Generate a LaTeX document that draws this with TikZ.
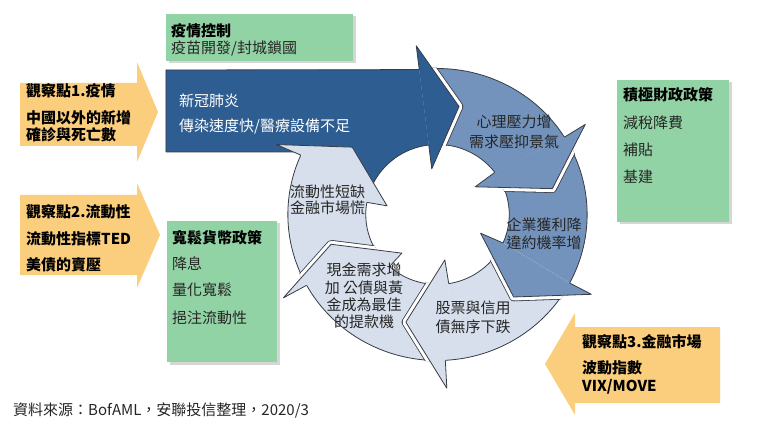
\documentclass[tikz,border=0pt]{standalone}
\usepackage{fontspec}
\setmainfont{Noto Sans CJK TC}
\definecolor{darkb}{RGB}{46,93,145}
\definecolor{midb}{RGB}{115,147,188}
\definecolor{lightb}{RGB}{214,223,235}
\definecolor{edgec}{RGB}{55,60,70}
\definecolor{greenc}{RGB}{146,211,165}
\definecolor{orangec}{RGB}{251,206,125}
\definecolor{txtc}{RGB}{38,38,38}

% body of a ring segment: tail outer/inner angle, head outer/inner angle, colour
\newcommand{\ringbody}[5]{%
  \fill[#5] (#1:146) arc[start angle=#1,end angle=#3,ro] -- (#4:70) arc[start angle=#4,end angle=#2,ri] -- cycle;
  \draw[edge] (#1:146) arc[start angle=#1,end angle=#3,ro];
  \draw[edge] (#4:70) arc[start angle=#4,end angle=#2,ri];
}
% head: outer base angle, inner base angle, tip angle, tip radius, outer wing r, inner wing r, colour, gap(1/0)
\newcommand{\ringhead}[8]{%
  \ifnum#8=1
    \begin{scope}
      \clip (0:147) arc[start angle=0,end angle=360,x radius=150.675pt,y radius=147pt] -- cycle
            (0:69) arc[start angle=360,end angle=0,x radius=70.725pt,y radius=69pt] -- cycle;
      \draw[line width=8.6pt,draw=edgec,line join=round] (#1:#5) -- (#3:#4) -- (#2:#6);
      \draw[line width=7pt,draw=white,line join=round] (#1:#5) -- (#3:#4) -- (#2:#6);
    \end{scope}
  \fi
  \fill[#7] (#1:146) -- (#1:#5) -- (#3:#4) -- (#2:#6) -- (#2:70) -- cycle;
  \draw[edge] (#1:146) -- (#1:#5) -- (#3:#4) -- (#2:#6) -- (#2:70);
}

\begin{document}
\begin{tikzpicture}[x=1pt,y=-1pt,
  edge/.style={draw=edgec,line width=0.8pt,line join=round},
  ro/.style={x radius=149.65pt,y radius=146pt},
  ri/.style={x radius=71.75pt,y radius=70pt},
  lbl/.style={inner sep=0pt,anchor=west,font=\fontsize{15}{18}\selectfont,text=txtc},
  lblb/.style={inner sep=0pt,anchor=west,font=\fontsize{15}{18}\selectfont\bfseries,text=black},
  wlbl/.style={inner sep=0pt,anchor=west,font=\fontsize{15}{18}\selectfont,text=white},
  ringtxt/.style={inner sep=0pt,align=center,text=txtc},
  greenbox/.style={fill=greenc},
  boxshadow/.style={fill=black,opacity=0.16},
  orangearrow/.style={fill=orangec}]

\fill[white] (0,0) rectangle (772,425);
\useasboundingbox (0,0) rectangle (772,425);

% ---------- orange observation arrows ----------
\fill[orangearrow] (20,83) -- (137,83) -- (137,62) -- (158,112) -- (137,162) -- (137,146) -- (20,146) -- cycle;
\fill[orangearrow] (20,195) -- (137,195) -- (137,183) -- (160,235) -- (137,288) -- (137,275) -- (20,275) -- cycle;
\fill[orangearrow] (720,327) -- (575,327) -- (575,313) -- (545,364) -- (575,415) -- (575,403) -- (720,403) -- cycle;

% ---------- green boxes ----------
\fill[boxshadow] (168.5,16.5) rectangle (355.5,63.5);
\fill[greenbox] (166,14) rectangle (353,61);
\fill[boxshadow] (169.5,223.5) rectangle (279.5,364.5);
\fill[greenbox] (167,221) rectangle (277,362);
\fill[boxshadow] (619.5,82.5) rectangle (731.5,224.5);
\fill[greenbox] (617,80) rectangle (729,222);

% ---------- cycle ----------
\begin{scope}[shift={(437.5,214.5)},x=1.025pt,y=1pt]
  % bodies
  \ringbody{97}{97}{32}{37}{midb}
  \ringbody{32}{37}{-28}{-24}{midb}
  \ringbody{-28}{-24}{-87}{-81}{lightb}
  \ringbody{273}{279}{209}{228}{lightb}
  \ringbody{209}{228}{156}{170}{lightb}
  % big dark arrow body
  \fill[darkb] (97:146) -- (-264.9,144.5) -- (-264.9,62.5) -- (-95.1,62.5) -- (155:70)
      arc[start angle=155,end angle=97,ri] -- cycle;
  \draw[edge] (97:146) -- (-264.9,144.5) -- (-264.9,62.5) -- (-95.1,62.5);
  \draw[edge] (155:70) arc[start angle=155,end angle=97,ri];
  % heads
  \ringhead{97}{97}{79}{110}{170}{46}{darkb}{1}
  \ringhead{32}{37}{13}{115}{170}{46}{midb}{1}
  \ringhead{-28}{-24}{-48}{111}{170}{46}{midb}{1}
  \ringhead{-87}{-81}{-106}{112}{174}{46}{lightb}{1}
  \ringhead{209}{228}{196}{108}{172}{52}{lightb}{1}
  \ringhead{156}{170}{141}{107}{172}{50}{lightb}{0}
\end{scope}

% ---------- texts ----------
\node[lblb] (o1a) at (26,90.5) {觀察點1.疫情};
\node[lblb] (o1b) at (26,117.5) {中國以外的新增};
\node[lblb] (o1c) at (26,135) {確診與死亡數};

\node[lblb] (o2a) at (26,211.5) {觀察點2.流動性};
\node[lblb] (o2b) at (26,238.5) {流動性指標TED};
\node[lblb] (o2c) at (26,265) {美債的賣壓};

\node[lblb] (o3a) at (582,341.5) {觀察點3.金融市場};
\node[lblb] (o3b) at (582,368) {波動指數};
\node[lblb] (o3c) at (582,386.5) {VIX/MOVE};

\node[lblb] (g1a) at (171,31) {疫情控制};
\node[lbl] (g1b) at (171,48) {疫苗開發/封城鎖國};

\node[lblb] (g2a) at (172,237.5) {寬鬆貨幣政策};
\node[lbl] (g2b) at (172,264) {降息};
\node[lbl] (g2c) at (172,290) {量化寬鬆};
\node[lbl] (g2d) at (172,317.5) {挹注流動性};

\node[lblb] (g3a) at (623,95) {積極財政政策};
\node[lbl] (g3b) at (623,122.5) {減稅降費};
\node[lbl] (g3c) at (623,150) {補貼};
\node[lbl] (g3d) at (623,176.5) {基建};

\node[wlbl] (d1) at (179,100.5) {新冠肺炎};
\node[wlbl] (d2) at (179,127) {傳染速度快/醫療設備不足};

\node[ringtxt,font=\fontsize{15}{19.5}\selectfont] (r1) at (514,132) {心理壓力增\\需求壓抑景氣};
\node[ringtxt,font=\fontsize{15}{18}\selectfont] (r2) at (544,234) {企業獲利降\\違約機率增};
\node[ringtxt,font=\fontsize{15}{19}\selectfont] (r3) at (473,317.5) {股票與信用\\債無序下跌};
\node[ringtxt,font=\fontsize{15}{17.3}\selectfont] (r4) at (364,296) {現金需求增\\加 公債與黃\\金成為最佳\\的提款機};
\node[ringtxt,font=\fontsize{15}{15.5}\selectfont] (r5) at (327.5,200) {流動性短缺\\金融市場慌};

\node[lbl] (src) at (13,410) {資料來源：BofAML，安聯投信整理，2020/3};
\end{tikzpicture}
\end{document}
